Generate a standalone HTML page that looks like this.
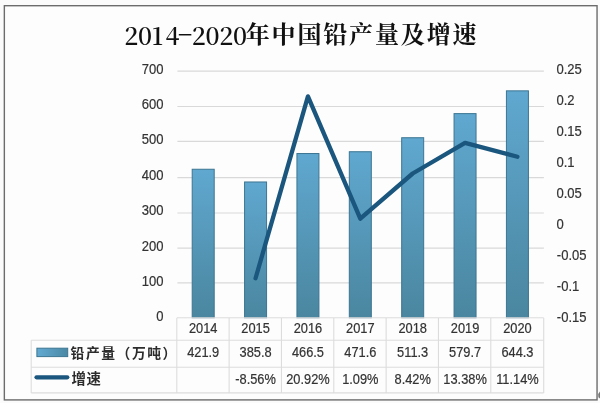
<!DOCTYPE html>
<html lang="zh"><head><meta charset="utf-8"><title>2014-2020年中国铅产量及增速</title>
<style>
html,body{margin:0;padding:0;background:#fdfdfd;}
body{width:600px;height:403px;overflow:hidden;}
svg{display:block;}
.ax{font-family:"Liberation Sans","Noto Sans CJK SC",sans-serif;font-size:13.9px;fill:#333;stroke:#333;stroke-width:.2px;}
.tb{font-family:"Liberation Sans","Noto Sans CJK SC",sans-serif;font-size:13.8px;fill:#333;stroke:#333;stroke-width:.2px;}
.lg{font-family:"Noto Sans CJK SC","Liberation Sans",sans-serif;font-size:13.8px;fill:#2c2c2c;font-weight:700;}
.ti{font-family:"Noto Serif CJK SC","Liberation Serif",serif;font-size:25.5px;fill:#111;font-weight:700;}
</style></head><body>
<svg width="600" height="403" viewBox="0 0 600 403">
<defs>
<linearGradient id="bg" x1="0" y1="0" x2="0" y2="1"><stop offset="0" stop-color="#60a8d0"/><stop offset="1" stop-color="#4a869f"/></linearGradient>
<linearGradient id="sw" x1="0" y1="0" x2="1" y2="0"><stop offset="0" stop-color="#62aad2"/><stop offset="1" stop-color="#4a88a4"/></linearGradient>
</defs>
<rect x="0" y="0" width="600" height="403" fill="#fbfbfb"/>
<rect x="4.35" y="5.7" width="592.7" height="394.2" fill="#fdfdfd" stroke="#6c6c6c" stroke-width="1.4"/>
<path d="M600 391.6 L598.2 394 L598.4 397.2 L600 398.4Z" fill="#777"/>

<line x1="177.4" y1="282.80" x2="543.9" y2="282.80" stroke="#d9d9d9" stroke-width="1.2"/>
<line x1="177.4" y1="248.10" x2="543.9" y2="248.10" stroke="#d9d9d9" stroke-width="1.2"/>
<line x1="177.4" y1="213.00" x2="543.9" y2="213.00" stroke="#d9d9d9" stroke-width="1.2"/>
<line x1="177.4" y1="177.60" x2="543.9" y2="177.60" stroke="#d9d9d9" stroke-width="1.2"/>
<line x1="177.4" y1="141.40" x2="543.9" y2="141.40" stroke="#d9d9d9" stroke-width="1.2"/>
<line x1="177.4" y1="106.50" x2="543.9" y2="106.50" stroke="#d9d9d9" stroke-width="1.2"/>
<line x1="177.4" y1="71.20" x2="543.9" y2="71.20" stroke="#d9d9d9" stroke-width="1.2"/>
<rect x="192.20" y="169.25" width="22.0" height="148.45" fill="url(#bg)" stroke="#3c7592" stroke-width="1"/>
<rect x="244.57" y="181.98" width="22.0" height="135.72" fill="url(#bg)" stroke="#3c7592" stroke-width="1"/>
<rect x="296.94" y="153.53" width="22.0" height="164.17" fill="url(#bg)" stroke="#3c7592" stroke-width="1"/>
<rect x="349.31" y="151.73" width="22.0" height="165.97" fill="url(#bg)" stroke="#3c7592" stroke-width="1"/>
<rect x="401.68" y="137.73" width="22.0" height="179.97" fill="url(#bg)" stroke="#3c7592" stroke-width="1"/>
<rect x="454.05" y="113.61" width="22.0" height="204.09" fill="url(#bg)" stroke="#3c7592" stroke-width="1"/>
<rect x="506.42" y="90.84" width="22.0" height="226.86" fill="url(#bg)" stroke="#3c7592" stroke-width="1"/>
<line x1="176.80" y1="318.0" x2="176.80" y2="392.9" stroke="#dcdcdc" stroke-width="1.1"/>
<line x1="229.13" y1="318.0" x2="229.13" y2="392.9" stroke="#dcdcdc" stroke-width="1.1"/>
<line x1="281.46" y1="318.0" x2="281.46" y2="392.9" stroke="#dcdcdc" stroke-width="1.1"/>
<line x1="333.79" y1="318.0" x2="333.79" y2="392.9" stroke="#dcdcdc" stroke-width="1.1"/>
<line x1="386.12" y1="318.0" x2="386.12" y2="392.9" stroke="#dcdcdc" stroke-width="1.1"/>
<line x1="438.45" y1="318.0" x2="438.45" y2="392.9" stroke="#dcdcdc" stroke-width="1.1"/>
<line x1="490.78" y1="318.0" x2="490.78" y2="392.9" stroke="#dcdcdc" stroke-width="1.1"/>
<line x1="543.71" y1="318.0" x2="543.71" y2="392.9" stroke="#dcdcdc" stroke-width="1.1"/>
<line x1="176.8" y1="317.8" x2="543.71" y2="317.8" stroke="#dcdcdc" stroke-width="1.1"/>
<line x1="31.2" y1="340.2" x2="543.71" y2="340.2" stroke="#dcdcdc" stroke-width="1.1"/>
<line x1="31.2" y1="367.3" x2="543.71" y2="367.3" stroke="#dcdcdc" stroke-width="1.1"/>
<line x1="31.2" y1="392.9" x2="543.71" y2="392.9" stroke="#dcdcdc" stroke-width="1.1"/>
<line x1="31.2" y1="340.2" x2="31.2" y2="392.9" stroke="#dcdcdc" stroke-width="1.1"/>
<polyline points="255.57,278.27 307.94,96.37 360.31,218.72 412.68,173.50 465.05,142.90 517.42,156.72" fill="none" stroke="#1a567d" stroke-width="4.3" stroke-linejoin="round" stroke-linecap="round"/>
<text class="ax" transform="translate(163.5,321.30) scale(.94,1)" text-anchor="end">0</text>
<text class="ax" transform="translate(163.5,285.91) scale(.94,1)" text-anchor="end">100</text>
<text class="ax" transform="translate(163.5,250.52) scale(.94,1)" text-anchor="end">200</text>
<text class="ax" transform="translate(163.5,215.13) scale(.94,1)" text-anchor="end">300</text>
<text class="ax" transform="translate(163.5,179.74) scale(.94,1)" text-anchor="end">400</text>
<text class="ax" transform="translate(163.5,144.35) scale(.94,1)" text-anchor="end">500</text>
<text class="ax" transform="translate(163.5,108.96) scale(.94,1)" text-anchor="end">600</text>
<text class="ax" transform="translate(163.5,73.57) scale(.94,1)" text-anchor="end">700</text>
<text class="ax" transform="translate(556.8,321.80) scale(.94,1)">-0.15</text>
<text class="ax" transform="translate(556.8,290.80) scale(.94,1)">-0.1</text>
<text class="ax" transform="translate(556.8,259.80) scale(.94,1)">-0.05</text>
<text class="ax" transform="translate(556.4,228.80) scale(.94,1)">0</text>
<text class="ax" transform="translate(556.4,197.80) scale(.94,1)">0.05</text>
<text class="ax" transform="translate(556.4,166.80) scale(.94,1)">0.1</text>
<text class="ax" transform="translate(556.4,135.80) scale(.94,1)">0.15</text>
<text class="ax" transform="translate(556.4,104.80) scale(.94,1)">0.2</text>
<text class="ax" transform="translate(556.4,73.80) scale(.94,1)">0.25</text>
<text class="tb" transform="translate(203.20,332.7) scale(.93,1)" text-anchor="middle">2014</text>
<text class="tb" transform="translate(203.20,357.1) scale(.93,1)" text-anchor="middle">421.9</text>
<text class="tb" transform="translate(255.57,332.7) scale(.93,1)" text-anchor="middle">2015</text>
<text class="tb" transform="translate(255.57,357.1) scale(.93,1)" text-anchor="middle">385.8</text>
<text class="tb" transform="translate(255.57,383.5) scale(.93,1)" text-anchor="middle">-8.56%</text>
<text class="tb" transform="translate(307.94,332.7) scale(.93,1)" text-anchor="middle">2016</text>
<text class="tb" transform="translate(307.94,357.1) scale(.93,1)" text-anchor="middle">466.5</text>
<text class="tb" transform="translate(307.94,383.5) scale(.93,1)" text-anchor="middle">20.92%</text>
<text class="tb" transform="translate(360.31,332.7) scale(.93,1)" text-anchor="middle">2017</text>
<text class="tb" transform="translate(360.31,357.1) scale(.93,1)" text-anchor="middle">471.6</text>
<text class="tb" transform="translate(360.31,383.5) scale(.93,1)" text-anchor="middle">1.09%</text>
<text class="tb" transform="translate(412.68,332.7) scale(.93,1)" text-anchor="middle">2018</text>
<text class="tb" transform="translate(412.68,357.1) scale(.93,1)" text-anchor="middle">511.3</text>
<text class="tb" transform="translate(412.68,383.5) scale(.93,1)" text-anchor="middle">8.42%</text>
<text class="tb" transform="translate(465.05,332.7) scale(.93,1)" text-anchor="middle">2019</text>
<text class="tb" transform="translate(465.05,357.1) scale(.93,1)" text-anchor="middle">579.7</text>
<text class="tb" transform="translate(465.05,383.5) scale(.93,1)" text-anchor="middle">13.38%</text>
<text class="tb" transform="translate(517.42,332.7) scale(.93,1)" text-anchor="middle">2020</text>
<text class="tb" transform="translate(517.42,357.1) scale(.93,1)" text-anchor="middle">644.3</text>
<text class="tb" transform="translate(517.42,383.5) scale(.93,1)" text-anchor="middle">11.14%</text>
<rect x="36.9" y="348.2" width="30.8" height="8.4" fill="url(#sw)" stroke="#3c7592" stroke-width="1"/>
<text class="lg" x="70.6" y="357.9" textLength="105.8" lengthAdjust="spacing">铅产量（万吨）</text>
<line x1="36.5" y1="377.3" x2="67.3" y2="377.3" stroke="#1a567d" stroke-width="4.2" stroke-linecap="round"/>
<text class="lg" x="71.6" y="383.7" textLength="29.4" lengthAdjust="spacing" style="font-size:14.4px">增速</text>
<text class="ti" x="124.3 138.05 151.8 165.55" y="44.5" style="font-size:24.3px;font-weight:600">2014</text>
<text class="ti" transform="translate(176.8,42.4) scale(1.75,1)" x="0" y="0" style="font-size:27px;font-weight:500">-</text>
<text class="ti" x="191.8 205.55 219.3 233.05" y="44.5" style="font-size:24.3px;font-weight:600">2020</text>
<text class="ti" x="245.7" y="42.75" textLength="230.8" lengthAdjust="spacing" style="font-size:24px">年中国铅产量及增速</text>
</svg></body></html>
